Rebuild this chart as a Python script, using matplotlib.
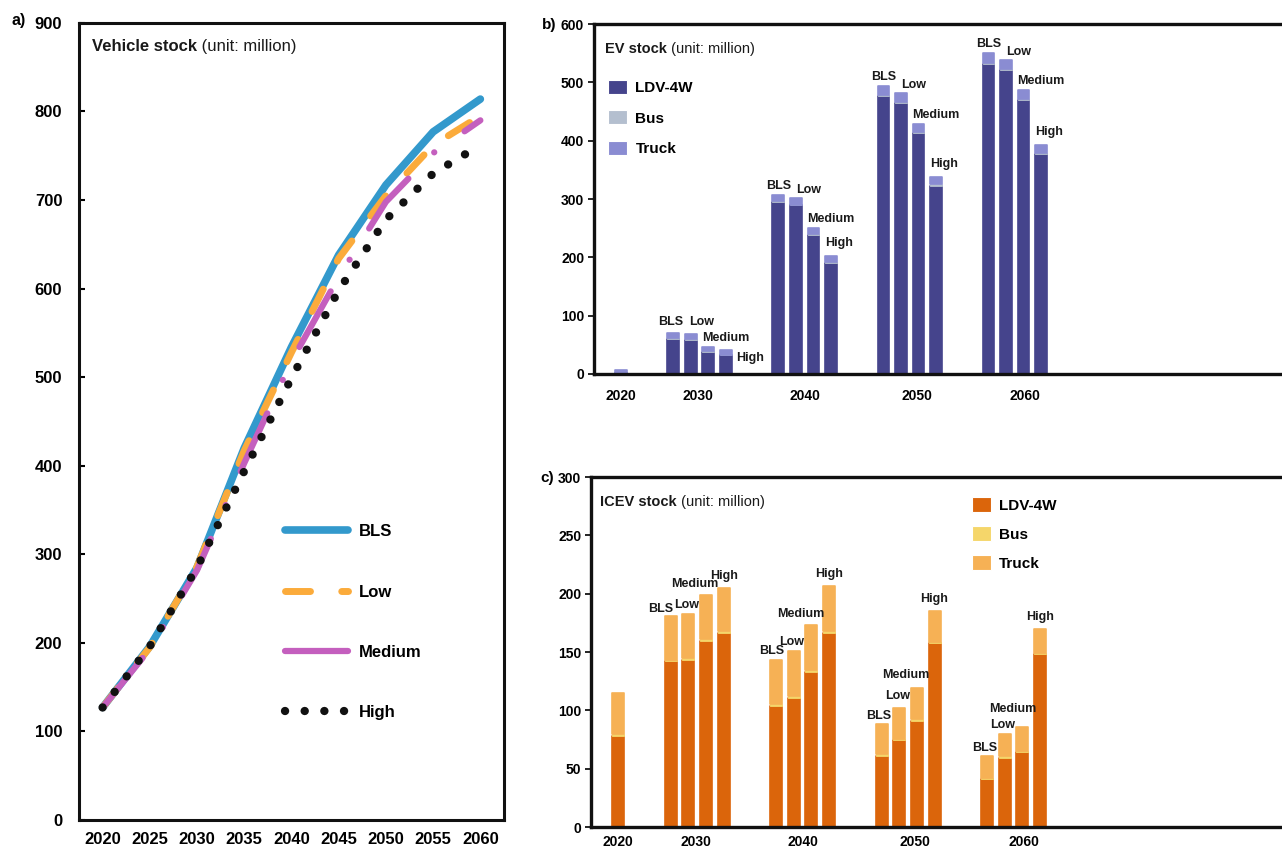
import matplotlib
matplotlib.use("Agg")
import matplotlib.pyplot as plt
from matplotlib.patches import Patch

# ---- panel a: vehicle stock (million) ----
years = [2020, 2025, 2030, 2035, 2040, 2045, 2050, 2055, 2060]
stock_bls = [127, 196, 285, 420, 534, 638, 717, 777, 814]
stock_low = [127, 195, 286, 417, 528, 634, 705, 762, 795]
stock_medium = [127, 193, 282, 403, 518, 613, 698, 753, 790]
stock_high = [127, 196, 285, 394, 499, 598, 678, 730, 762]

# ---- panels b and c: stacked bars ----
bar_years = [2020, 2030, 2040, 2050, 2060]
scenarios = ["BLS", "Low", "Medium", "High"]

# EV stock, one row per decade after 2020 (BLS, Low, Medium, High)
ev_2020 = {"ldv": 1, "bus": 0.5, "truck": 5}
ev_ldv = [[60, 59, 38, 32], [295, 289, 238, 191], [476, 464, 413, 323], [532, 521, 470, 377]]
ev_bus = [[1, 1, 1, 1], [1.5, 1.5, 1.5, 1.5], [2, 2, 2, 2], [2, 2, 2, 2]]
ev_truck = [[9, 8, 7, 8], [10.5, 10.5, 10.5, 10.5], [15, 15, 13, 12], [17, 16, 15, 13]]

# ICEV stock
icev_2020 = {"ldv": 78, "bus": 1.5, "truck": 35}
icev_ldv = [[142, 143.5, 159.5, 166.5], [104, 111, 133, 166.5], [61, 74.5, 91, 157.5], [41, 59.5, 64.5, 148.5]]
icev_bus = [[1.5, 1.5, 1.5, 1.5], [1.5, 1.5, 1.5, 1.5], [1.2, 1.2, 1.2, 1.2], [1, 1, 1, 1]]
icev_truck = [[37.5, 37.5, 37.5, 37], [38, 38, 38.5, 38.5], [25.8, 26.3, 26.8, 26.7], [18.9, 19.5, 19.9, 19.9]]

FONT = ["Liberation Sans", "DejaVu Sans"]

fig = plt.figure(figsize=(12.82, 8.49), dpi=100)

# ================= panel a =================
ax = fig.add_axes([0.0616, 0.0342, 0.3315, 0.9388])
ax.plot(years, stock_bls, color="#3399cc", lw=5.5, solid_capstyle="round", label="BLS", zorder=3)
ax.plot(years, stock_low, color="#fbab3b", lw=5, dash_capstyle="round",
        linestyle=(0, (3.6, 4.5)), label="Low", zorder=4)
ax.plot(years, stock_medium, color="#c45fbe", lw=4.5, dash_capstyle="round",
        linestyle=(0, (10.2, 5.9, 0.01, 5.9)), label="Medium", zorder=5)
ax.plot(years, stock_high, color="#111111", lw=6, dash_capstyle="round",
        linestyle=(0, (0.01, 2.35)), label="High", zorder=6)

ax.set_xlim(2017.5, 2062.5)
ax.set_ylim(0, 900)
ax.set_xticks(range(2020, 2061, 5))
ax.set_yticks(range(0, 901, 100))
ax.tick_params(axis="y", direction="in", length=4, width=1.5, pad=12)
ax.tick_params(axis="x", length=0, pad=9)
for lab in ax.get_xticklabels() + ax.get_yticklabels():
    lab.set_fontfamily(FONT)
    lab.set_fontweight("bold")
    lab.set_fontsize(12)
for sp in ax.spines.values():
    sp.set_linewidth(2.2)
    sp.set_color("#111111")

t1 = ax.text(0.031, 0.971, "Vehicle stock", transform=ax.transAxes, fontsize=12,
             fontweight="bold", family=FONT, va="center", ha="left", color="#1a1a1a")
ax.annotate(" (unit: million)", xy=(1, 0), xycoords=t1, va="bottom", ha="left",
            fontsize=12, family=FONT, color="#1a1a1a")

ax.legend(loc="upper left", bbox_to_anchor=(0.485, 0.371), frameon=False,
          borderpad=0, borderaxespad=0, handlelength=3.8, handletextpad=0.6,
          labelspacing=2.72, prop={"family": FONT, "weight": "bold", "size": 12})
fig.text(12 / 1282, 1 - 21 / 849, "a)", fontsize=11.5, fontweight="bold", family=FONT,
         va="center", ha="left")


# ================= panels b and c =================
def bar_panel(rect, ldv, bus, truck, first, colors, ylim, ystep, title,
              label_rules, legend_anchor, legend_spacing, xtick_pad, label_fix):
    ax = fig.add_axes(rect)
    width = 0.68
    # slot positions: 2020 alone, then groups of four with a gap of two slots
    xs = [0]
    for g in range(len(ldv)):
        xs += [3 + 6 * g + i for i in range(4)]
    l = [first["ldv"]] + [v for row in ldv for v in row]
    b = [first["bus"]] + [v for row in bus for v in row]
    t = [first["truck"]] + [v for row in truck for v in row]
    kw = dict(width=width, linewidth=1.2, joinstyle="round", zorder=2)
    ax.bar(xs, l, color=colors[0], edgecolor=colors[0], label="LDV-4W", **kw)
    ax.bar(xs, b, bottom=l, color=colors[1], edgecolor=colors[1], label="Bus",
           width=width, linewidth=0.6, zorder=2)
    bottoms = [a + c for a, c in zip(l, b)]
    ax.bar(xs, t, bottom=bottoms, color=colors[2], edgecolor=colors[2], label="Truck", **kw)

    tops = [a + c for a, c in zip(bottoms, t)]
    for k in range(1, len(xs)):
        g, i = divmod(k - 1, 4)
        name = scenarios[i]
        ha, anchor, dx, dy = label_fix.get((bar_years[g + 1], name), label_rules[name])
        x = xs[k] + {"center": 0, "left": -width / 2, "right": width / 2}[anchor]
        ax.annotate(name, xy=(x, tops[k]), xytext=(dx, dy), textcoords="offset pixels",
                    ha=ha, va="baseline", fontsize=9, fontweight="bold", family=FONT,
                    color="#1a1a1a", zorder=4)

    ax.set_xlim(-1.54, 38.5)
    ax.set_ylim(*ylim)
    ax.set_yticks(range(ylim[0], ylim[1] + 1, ystep))
    centers = [0] + [3 + 6 * g + 1.5 for g in range(len(ldv))]
    shift = [0, -0.08, 0.03, 0.4, 0.58]
    ax.set_xticks([c + s for c, s in zip(centers, shift)])
    ax.set_xticklabels([str(y) for y in bar_years])
    ax.tick_params(axis="y", direction="out", length=4, width=1.2, pad=3)
    ax.tick_params(axis="x", length=0, pad=xtick_pad)
    for lab in ax.get_xticklabels() + ax.get_yticklabels():
        lab.set_fontfamily(FONT)
        lab.set_fontweight("bold")
        lab.set_fontsize(10)
    for sp in ax.spines.values():
        sp.set_linewidth(2.4)
        sp.set_color("#111111")
        sp.set_zorder(3)
    ax.spines["right"].set_visible(False)

    tt = ax.text(title[1], title[2], title[0], transform=ax.transAxes, fontsize=10.5,
                 fontweight="bold", family=FONT, va="center", ha="left", color="#1a1a1a")
    ax.annotate(" (unit: million)", xy=(1, 0), xycoords=tt, va="bottom", ha="left",
                fontsize=10.5, family=FONT, color="#1a1a1a")

    handles = [Patch(facecolor=c, edgecolor="white", linewidth=0.8) for c in colors]
    ax.legend(handles, ["LDV-4W", "Bus", "Truck"], loc="upper left",
              bbox_to_anchor=legend_anchor, frameon=False, borderpad=0, borderaxespad=0,
              handlelength=1.25, handleheight=1.05, handletextpad=0.55,
              labelspacing=legend_spacing,
              prop={"family": FONT, "weight": "bold", "size": 11})
    return ax


rules_b = {"BLS": ("center", "center", 0, 6), "Low": ("left", "center", 0, 5),
           "Medium": ("left", "left", 0, 6), "High": ("left", "left", 0, 10)}
fix_b = {(2030, "BLS"): ("center", "center", -3, 8), (2030, "Low"): ("left", "center", -2, 9),
         (2030, "High"): ("left", "right", 4, -11)}
bar_panel([0.4633, 0.5595, 0.5467, 0.4122], ev_ldv, ev_bus, ev_truck, ev_2020,
          ["#45448c", "#b4bfcf", "#8a8cd2"], (0, 600), 100, ("EV stock", 0.0157, 0.929),
          rules_b, (0.02, 0.84), 0.98, 11, fix_b)

rules_c = {"BLS": ("center", "center", -3, 5), "Low": ("center", "center", -2, 6),
           "Medium": ("center", "center", -11, 8), "High": ("center", "center", 0, 9)}
fix_c = {(2030, "BLS"): ("center", "center", -10, 4), (2040, "BLS"): ("center", "center", -5, 6),
         (2050, "Medium"): ("center", "center", -11, 10), (2050, "Low"): ("center", "center", -2, 9),
         (2060, "Medium"): ("center", "center", -10, 15)}
bar_panel([0.4610, 0.0259, 0.5491, 0.4122], icev_ldv, icev_bus, icev_truck, icev_2020,
          ["#db650b", "#f5d66a", "#f6b155"], (0, 300), 50, ("ICEV stock", 0.0128, 0.929),
          rules_c, (0.541, 0.942), 0.9, 6, fix_c)

fig.text(542 / 1282, 1 - 25 / 849, "b)", fontsize=11, fontweight="bold", family=FONT,
         va="center", ha="left")
fig.text(540 / 1282, 1 - 478 / 849, "c)", fontsize=11, fontweight="bold", family=FONT,
         va="center", ha="left")

fig.savefig("out.png", dpi=100)
